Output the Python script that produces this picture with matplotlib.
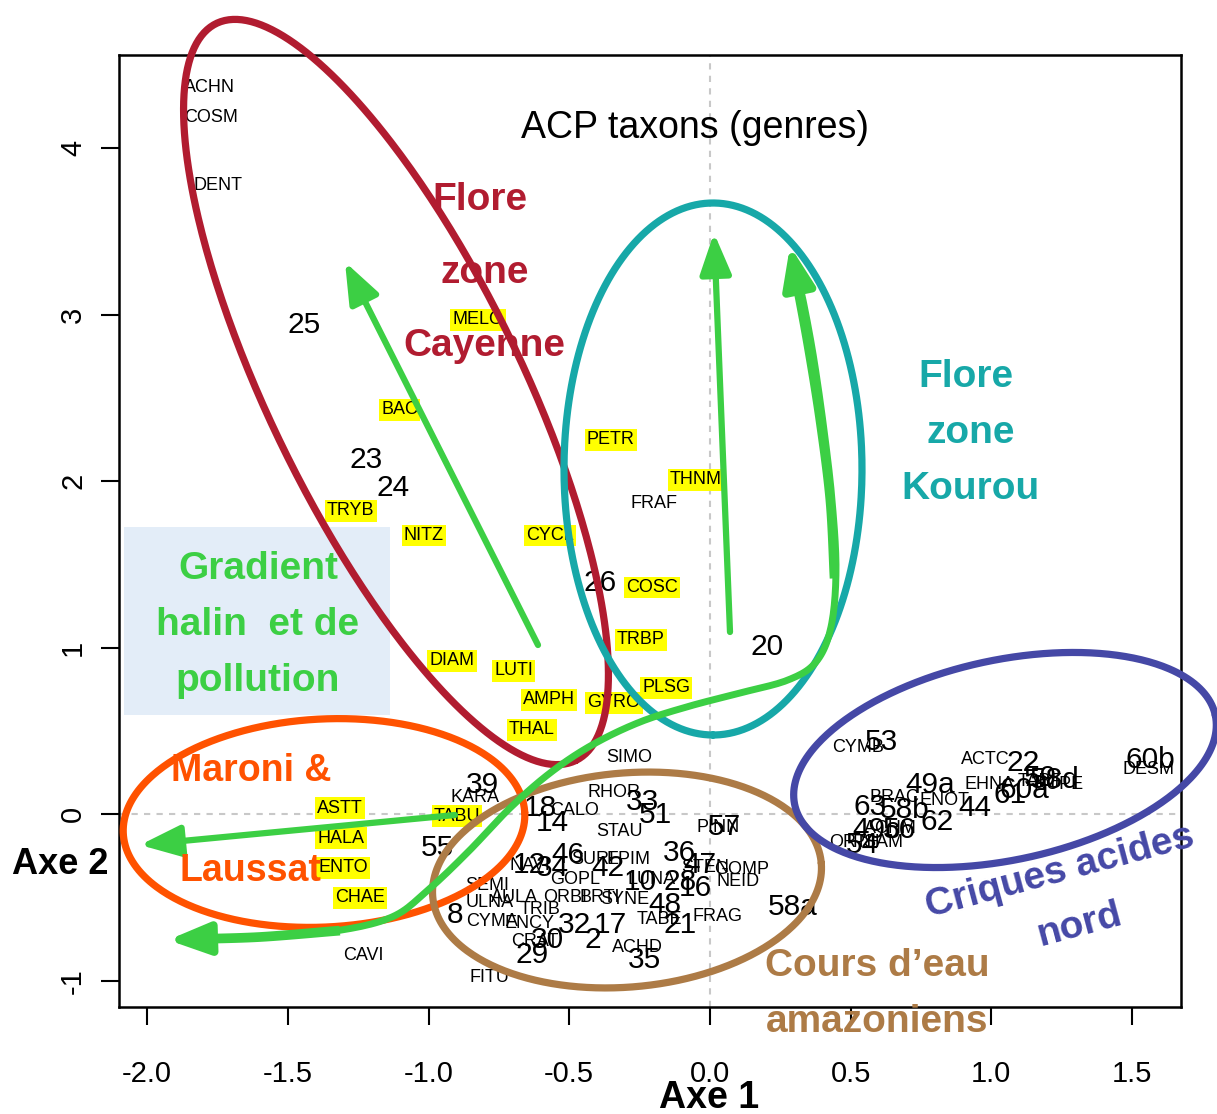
import numpy as np
import matplotlib
matplotlib.use('Agg')
import matplotlib.pyplot as plt
from matplotlib.transforms import Affine2D
from matplotlib.patches import Rectangle, FancyArrowPatch, ArrowStyle
from matplotlib.lines import Line2D

plt.rcParams['font.family'] = ['Liberation Sans', 'DejaVu Sans']

W, H = 1217, 1114

# ---------------- data ----------------
taxa_names = ["ACHN", "COSM", "DENT", "MELO", "BAC", "PETR", "THNM", "FRAF", "TRYB", "NITZ",
              "CYCL", "COSC", "TRBP", "DIAM", "LUTI", "PLSG", "AMPH", "GYRO", "THAL", "SIMO",
              "KARA", "RHOR", "CALO", "ASTT", "TABU", "HALA", "STAU", "PINN", "ENTO", "CHAE",
              "CAVI", "FITU", "ACHD", "FRAG", "NEID", "GOMP", "STEN", "SURI", "EPIM", "NAVI",
              "SEMI", "ULNA", "CYMA", "AULA", "ENCY", "CRAT", "GOPL", "ORBI", "TRIB", "TABE",
              "LUNA", "BRTI", "SYNE", "CYMB", "ACTC", "DESM", "EHNA", "BRAC", "ENOT", "ACHM",
              "ORTH", "PSAM", "TABF", "NUPE"]
taxa_x = [-1.777, -1.773, -1.748, -0.824, -1.102, -0.352, -0.050, -0.199, -1.276, -1.016,
          -0.569, -0.206, -0.245, -0.917, -0.697, -0.156, -0.572, -0.341, -0.633, -0.288,
          -0.835, -0.341, -0.480, -1.315, -0.899, -1.311, -0.320, 0.028, -1.304, -1.244,
          -1.230, -0.785, -0.256, 0.028, 0.100, 0.114, -0.018, -0.416, -0.291, -0.640,
          -0.792, -0.782, -0.775, -0.693, -0.640, -0.622, -0.480, -0.515, -0.604, -0.178,
          -0.206, -0.391, -0.302, 0.526, 0.977, 1.557, 0.995, 0.657, 0.835, 0.640,
          0.515, 0.597, 1.173, 1.240]
taxa_y = [4.360, 4.185, 3.777, 2.968, 2.428, 2.248, 2.008, 1.864, 1.822, 1.672,
          1.672, 1.360, 1.047, 0.921, 0.861, 0.759, 0.687, 0.669, 0.507, 0.339,
          0.104, 0.134, 0.026, 0.038, -0.010, -0.142, -0.100, -0.076, -0.321, -0.501,
          -0.849, -0.981, -0.801, -0.615, -0.405, -0.333, -0.321, -0.273, -0.273, -0.309,
          -0.429, -0.531, -0.645, -0.501, -0.657, -0.765, -0.393, -0.501, -0.573, -0.633,
          -0.393, -0.501, -0.513, 0.399, 0.327, 0.267, 0.177, 0.104, 0.086, -0.082,
          -0.166, -0.166, 0.195, 0.180]
taxa_highlight = ["MELO", "BAC", "PETR", "THNM", "TRYB", "NITZ", "CYCL", "COSC", "TRBP",
                  "DIAM", "LUTI", "PLSG", "AMPH", "GYRO", "THAL", "ASTT", "TABU", "HALA",
                  "ENTO", "CHAE"]

site_names = ["25", "23", "24", "26", "20", "53", "22", "60b", "49a", "63", "58b", "62", "44",
              "49c", "56", "54", "59", "58d", "60a", "61", "39", "18", "14", "33", "51", "57",
              "55", "36", "46", "12", "34", "42", "47", "10", "28", "16", "48", "21", "17",
              "29", "30", "2", "32", "35", "8", "58a"]
site_x = [-1.443, -1.222, -1.127, -0.391, 0.203, 0.611, 1.112, 1.564, 0.782, 0.569, 0.693,
          0.807, 0.942, 0.593, 0.675, 0.540, 1.173, 1.226, 1.119, 1.066, -0.810, -0.604,
          -0.561, -0.238, -0.192, 0.053, -0.967, -0.107, -0.505, -0.640, -0.558, -0.362,
          -0.036, -0.249, -0.107, -0.053, -0.160, -0.107, -0.355, -0.633, -0.576, -0.416,
          -0.480, -0.231, -0.906, 0.295]
site_y = [2.938, 2.128, 1.959, 1.389, 1.005, 0.435, 0.309, 0.327, 0.176, 0.044, 0.026,
          -0.046, 0.038, -0.094, -0.094, -0.184, 0.219, 0.207, 0.146, 0.117, 0.177, 0.038,
          -0.052, 0.074, -0.004, -0.076, -0.202, -0.232, -0.243, -0.303, -0.321, -0.321,
          -0.303, -0.405, -0.405, -0.441, -0.543, -0.663, -0.663, -0.843, -0.753, -0.753,
          -0.663, -0.873, -0.603, -0.555]

x_ticks = [-2.0, -1.5, -1.0, -0.5, 0.0, 0.5, 1.0, 1.5]
y_ticks = [-1, 0, 1, 2, 3, 4]

# ---------------- colours ----------------
RED = '#B11C30'
TEAL = '#17A8A8'
GREEN = '#3CCF44'
ORANGE = '#FF5200'
BROWN = '#AD7B46'
BLUE = '#4548A6'

fig = plt.figure(figsize=(W / 100, H / 100), dpi=100)
ax = fig.add_axes([119 / W, 1 - 1007 / H, (1181 - 119) / W, (1007 - 55) / H])
pix = Affine2D().scale(1 / W, -1 / H).translate(0, 1) + fig.transFigure

# background box
fig.add_artist(Rectangle((124, 527), 266, 188, transform=pix, facecolor='#E3EDF8',
                         edgecolor='none', zorder=0.5))
ax.set_facecolor('none')

ax.axhline(0, color='#c8c8c8', ls=(0, (3, 3)), lw=1.5, zorder=0)
ax.axvline(0, color='#c8c8c8', ls=(0, (3, 3)), lw=1.5, zorder=0)

for n, x, y in zip(taxa_names, taxa_x, taxa_y):
    kw = {}
    if n in taxa_highlight:
        kw['bbox'] = dict(boxstyle='square,pad=0.12', facecolor='#FFFF00', edgecolor='none')
    ax.text(x, y, n, fontsize=13, ha='center', va='center', color='black', zorder=3, **kw)

for n, x, y in zip(site_names, site_x, site_y):
    ax.text(x, y, n, fontsize=21.5, ha='center', va='center', color='black', zorder=3)

ax.set_xlim(-2.100, 1.674)
ax.set_ylim(-1.156, 4.558)
ax.set_xticks(x_ticks)
ax.set_xticklabels([f"{v:.1f}" for v in x_ticks])
ax.set_yticks(y_ticks)
ax.set_yticklabels([str(v) for v in y_ticks], rotation=90, va='center')
ax.tick_params(axis='both', direction='out', length=13, width=1.5, labelsize=21)
ax.tick_params(axis='x', pad=25)
ax.tick_params(axis='y', pad=10)
for s in ax.spines.values():
    s.set_linewidth(1.8)


# ---------------- annotation shapes (pixel space) ----------------
def ellipse(cx, cy, a, b, phi, color, lw=5.2):
    t = np.linspace(0, 2 * np.pi, 400)
    p = np.deg2rad(phi)
    xs = cx + a * np.cos(t) * np.cos(p) - b * np.sin(t) * np.sin(p)
    ys = cy + a * np.cos(t) * np.sin(p) + b * np.sin(t) * np.cos(p)
    fig.add_artist(Line2D(xs, ys, transform=pix, color=color, lw=lw, zorder=5,
                          solid_capstyle='round'))


ellipse(396, 392, 410, 126, 64, RED)
ellipse(713, 469, 266, 149, 90, TEAL)
ellipse(324, 823, 201, 104, -3, ORANGE)
ellipse(627, 880, 195, 107, -5, BROWN)
ellipse(1005, 760, 215, 100, -12, BLUE)

astyle = ArrowStyle('-|>', head_length=1.3, head_width=0.5)


def arrow(p0, p1, lw=4.5):
    fig.add_artist(FancyArrowPatch(p0, p1, transform=pix, arrowstyle=astyle,
                                   mutation_scale=19, lw=lw, color=GREEN,
                                   shrinkA=0, shrinkB=0, zorder=6))


arrow((538, 645), (345, 262))
arrow((730, 632), (714, 233))
arrow((455, 815), (140, 845))


def catmull(pts, n=12):
    pts = np.asarray(pts, float)
    P = np.vstack([pts[0], pts, pts[-1]])
    out = []
    for i in range(1, len(P) - 2):
        p0, p1, p2, p3 = P[i - 1], P[i], P[i + 1], P[i + 2]
        for t in np.linspace(0, 1, n, endpoint=False):
            t2, t3 = t * t, t * t * t
            out.append(0.5 * ((2 * p1) + (-p0 + p2) * t + (2 * p0 - 5 * p1 + 4 * p2 - p3) * t2
                              + (-p0 + 3 * p1 - 3 * p2 + p3) * t3))
    out.append(P[-2])
    return np.array(out)


curve = catmull([(195, 939), (260, 937), (335, 931), (392, 917), (428, 890), (468, 852),
                 (510, 808), (550, 773), (592, 745), (640, 722), (690, 706), (740, 693),
                 (788, 680), (816, 662), (831, 627), (836, 570), (832, 500), (824, 430),
                 (814, 360), (804, 305), (796, 270)])
fig.add_artist(Line2D(curve[:, 0], curve[:, 1], transform=pix, color=GREEN, lw=5,
                      zorder=6, solid_capstyle='butt'))
thick = catmull([(836, 575), (832, 500), (822, 420), (810, 345), (798, 280)])
fig.add_artist(Line2D(thick[:, 0] - 3, thick[:, 1], transform=pix, color=GREEN, lw=5,
                      zorder=6))
thick2 = catmull([(195, 939), (260, 937), (335, 931)])
fig.add_artist(Line2D(thick2[:, 0], thick2[:, 1], transform=pix, color=GREEN, lw=7,
                      zorder=6))
arrow((200, 939), (168, 940), lw=6)
arrow((797, 280), (790, 246), lw=6)

# ---------------- annotation texts ----------------
def ftxt(x, y, s, color, size=28, rot=0, weight='bold'):
    fig.text(x, y, s, transform=pix, color=color, fontsize=size, fontweight=weight,
             ha='center', va='center', rotation=rot, zorder=7)


ftxt(695, 128, "ACP taxons (genres)", 'black', size=27, weight='normal')
ftxt(480, 200, "Flore", RED)
ftxt(485, 273, "zone", RED)
ftxt(484, 346, "Cayenne", RED)
ftxt(966, 377, "Flore", TEAL)
ftxt(971, 433, "zone", TEAL)
ftxt(971, 489, "Kourou", TEAL)
ftxt(258, 569, "Gradient", GREEN)
ftxt(258, 625, "halin  et de", GREEN)
ftxt(258, 681, "pollution", GREEN)
ftxt(251, 771, "Maroni &", ORANGE, size=27)
ftxt(250, 871, "Laussat", ORANGE, size=27)
ftxt(877, 966, "Cours d\u2019eau", BROWN)
ftxt(877, 1022, "amazoniens", BROWN)
ftxt(1060, 872, "Criques acides", BLUE, rot=15)
ftxt(1080, 925, "nord", BLUE, rot=15)

ftxt(709, 1098, "Axe 1", 'black', size=27)
ftxt(60, 865, "Axe 2", 'black', size=26)

fig.savefig('out.png', dpi=100)
